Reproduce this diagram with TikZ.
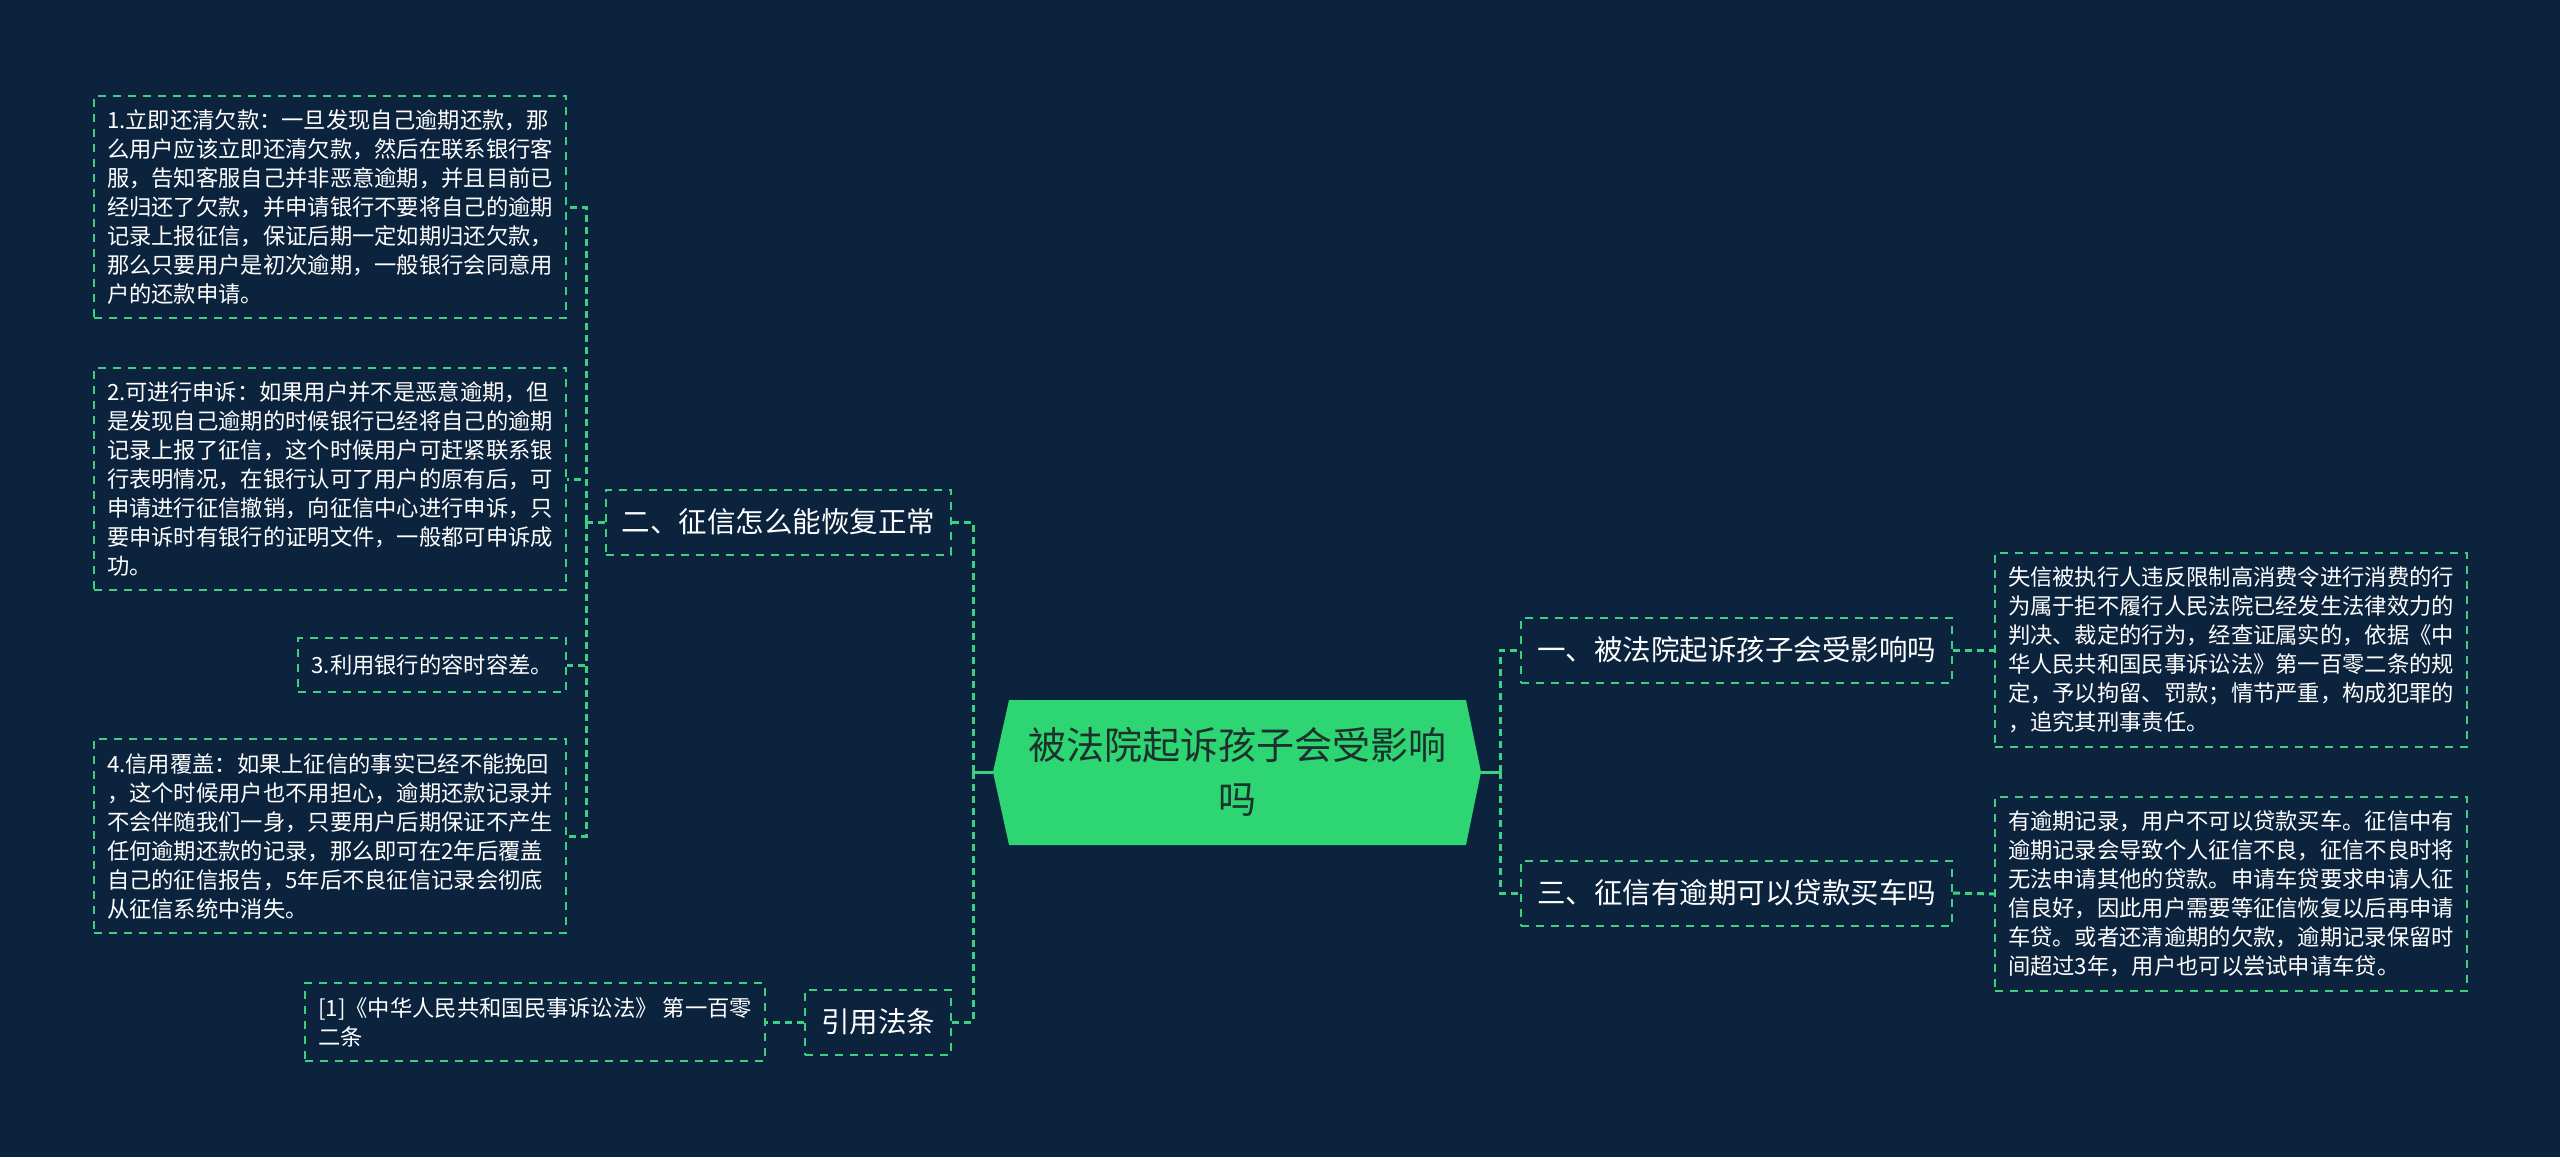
\documentclass[tikz,border=0pt]{standalone}
\usepackage{fontspec}
\setmainfont{Noto Sans CJK SC}
\usepackage{xcolor}
\usepackage{tikz}
\usetikzlibrary{positioning}

\definecolor{bgnavy}{RGB}{12,35,62}
\definecolor{linegreen}{RGB}{60,208,128}
\definecolor{rootgreen}{RGB}{46,213,115}
\definecolor{roottext}{RGB}{28,48,44}

\begin{document}
\begin{tikzpicture}[x=1pt, y=-1pt,
  root/.style={minimum width=488pt, minimum height=145pt, inner sep=0pt, align=center, text=roottext, font=\fontsize{38}{54}\selectfont},
  topic/.style={draw=linegreen, line width=2pt, dash pattern=on 8pt off 7pt, text=white, inner xsep=16pt, inner ysep=0pt, minimum height=65pt, font=\fontsize{28.5}{34}\selectfont},
  leaf/.style={draw=linegreen, line width=2pt, dash pattern=on 8pt off 7pt, text=white, align=left, inner xsep=13pt, inner ysep=14pt, font=\fontsize{22.3}{29}\selectfont},
  link/.style={draw=linegreen, line width=3pt, dash pattern=on 7pt off 5pt},
  stub/.style={draw=linegreen, line width=3pt}
]
  % Background
  \fill[bgnavy] (0,0) rectangle (2560,1157);
  \useasboundingbox (0,0) rectangle (2560,1157);

  % Root
  \fill[rootgreen] (993,772) -- (1009,700) -- (1466,700) -- (1481,772) -- (1466,845) -- (1009,845) -- cycle;
  \node[root] (root) at (1237,772) {被法院起诉孩子会受影响\\吗};

  % Right branches
  \node[topic, anchor=west] (t1) at (1520,650) {一、被法院起诉孩子会受影响吗};
  \node[topic, anchor=west] (t3) at (1520,893) {三、征信有逾期可以贷款买车吗};
  \node[leaf, anchor=west] (d1) at (1994,650) {失信被执行人违反限制高消费令进行消费的行\\为属于拒不履行人民法院已经发生法律效力的\\判决、裁定的行为，经查证属实的，依据《中\\华人民共和国民事诉讼法》第一百零二条的规\\定，予以拘留、罚款；情节严重，构成犯罪的\\，追究其刑事责任。};
  \node[leaf, anchor=west] (d3) at (1994,894) {有逾期记录，用户不可以贷款买车。征信中有\\逾期记录会导致个人征信不良，征信不良时将\\无法申请其他的贷款。申请车贷要求申请人征\\信良好，因此用户需要等征信恢复以后再申请\\车贷。或者还清逾期的欠款，逾期记录保留时\\间超过3年，用户也可以尝试申请车贷。};

  % Left branches
  \node[topic, anchor=east] (t2) at (952,522) {二、征信怎么能恢复正常};
  \node[topic, anchor=east] (tref) at (952,1022) {引用法条};
  \node[leaf, anchor=east] (s1) at (567,207) {1.立即还清欠款：一旦发现自己逾期还款，那\\么用户应该立即还清欠款，然后在联系银行客\\服，告知客服自己并非恶意逾期，并且目前已\\经归还了欠款，并申请银行不要将自己的逾期\\记录上报征信，保证后期一定如期归还欠款，\\那么只要用户是初次逾期，一般银行会同意用\\户的还款申请。};
  \node[leaf, anchor=east] (s2) at (567,479) {2.可进行申诉：如果用户并不是恶意逾期，但\\是发现自己逾期的时候银行已经将自己的逾期\\记录上报了征信，这个时候用户可赶紧联系银\\行表明情况，在银行认可了用户的原有后，可\\申请进行征信撤销，向征信中心进行申诉，只\\要申诉时有银行的证明文件，一般都可申诉成\\功。};
  \node[leaf, anchor=east, minimum height=54pt] (s3) at (567,665) {3.利用银行的容时容差。};
  \node[leaf, anchor=east] (s4) at (567,836) {4.信用覆盖：如果上征信的事实已经不能挽回\\，这个时候用户也不用担心，逾期还款记录并\\不会伴随我们一身，只要用户后期保证不产生\\任何逾期还款的记录，那么即可在2年后覆盖\\自己的征信报告，5年后不良征信记录会彻底\\从征信系统中消失。};
  \node[leaf, anchor=east] (r1) at (766,1022) {[1]《中华人民共和国民事诉讼法》 第一百零\\二条};

  % Connectors
  \coordinate (jr) at (1500,772);
  \coordinate (jl) at (973,772);
  \coordinate (j2) at (586,522);
  \draw[stub] (root.east) -- (jr);
  \draw[stub] (root.west) -- (jl);
  \foreach \t in {t1, t3} {
    \draw[link] (jr) |- (\t.west);
  }
  \foreach \t in {t2, tref} {
    \draw[link] (jl) |- (\t.east);
  }
  \draw[link] (t1.east) -- (d1.west);
  \draw[link] (t3.east) -- (d3.west);
  \draw[link] (t2.west) -- (j2);
  \foreach \s in {s1, s2, s3, s4} {
    \draw[link] (j2) |- (\s.east);
  }
  \draw[link] (tref.west) -- (r1.east);
\end{tikzpicture}
\end{document}
